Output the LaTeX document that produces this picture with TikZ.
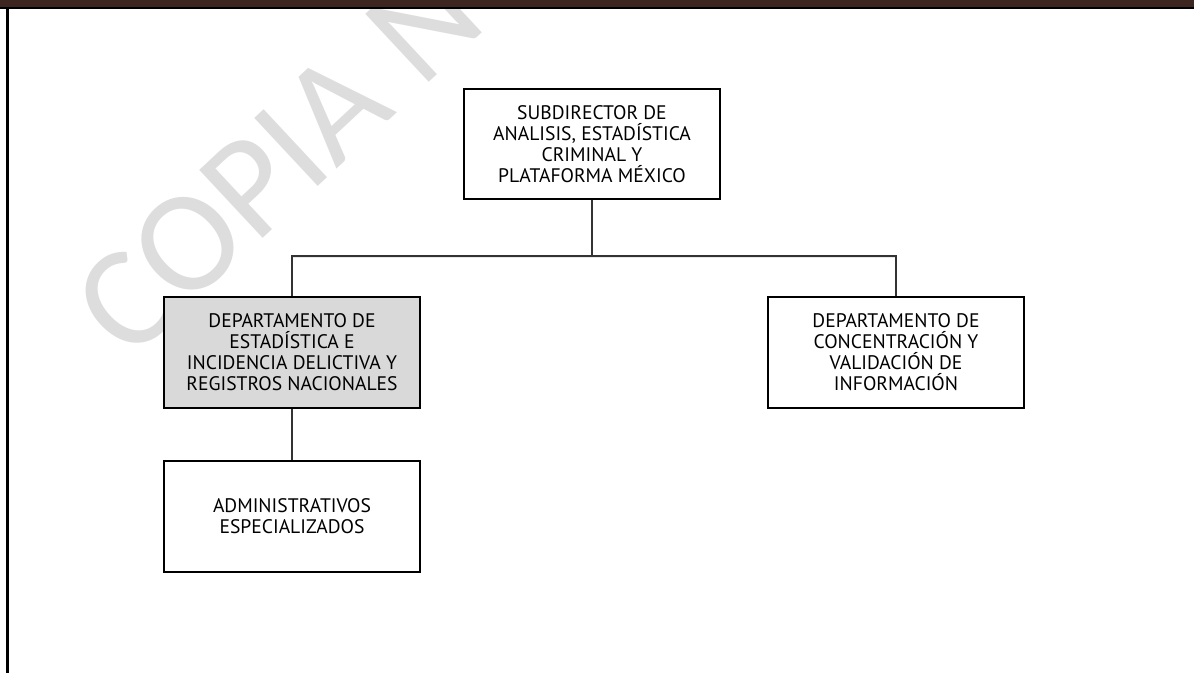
\documentclass[tikz,border=0pt]{standalone}
\usepackage{fontspec}
\setmainfont{PT Sans}
\newfontfamily\wmfont{Carlito}
\definecolor{barbrown}{RGB}{61,38,32}
\definecolor{wmgray}{RGB}{221,221,221}
\definecolor{boxgray}{RGB}{217,217,217}
\begin{document}
\begin{tikzpicture}[x=1pt,y=-1pt,
  orgbox/.style={draw=black, fill=white, line width=1.6pt, minimum width=256pt,
    minimum height=110pt, align=center, inner sep=0pt, text=black,
    font=\fontsize{19.6}{21}\selectfont},
  link/.style={draw=black!80, line width=1.3pt},
  linkshadow/.style={draw=black!15, line width=3pt, opacity=0.6}]
\useasboundingbox (0,0) rectangle (1194,673);

% watermark
\begin{scope}
  \clip (0,0) rectangle (1194,673);
  \node[anchor=base west, rotate=43, text=wmgray, inner sep=0pt,
        font=\wmfont\fontsize{145}{145}\selectfont] (wm) at (129,363) {COPIA NO};
\end{scope}

% header bar and left rule
\fill[barbrown] (0,0) rectangle (1194,6.5);
\fill[black] (0,6.5) rectangle (1194,8.5);
\fill[black] (6,6.5) rectangle (8.7,673);

% boxes
\node[orgbox] (sub) at (592,144)
  {SUBDIRECTOR DE\\ANALISIS, ESTADÍSTICA\\CRIMINAL Y\\PLATAFORMA MÉXICO};
\node[orgbox, fill=boxgray, minimum height=111pt] (est) at (292,352.5)
  {DEPARTAMENTO DE\\ESTADÍSTICA E\\INCIDENCIA DELICTIVA Y\\REGISTROS NACIONALES};
\node[orgbox, minimum height=111pt] (val) at (896,352.5)
  {DEPARTAMENTO DE\\CONCENTRACIÓN Y\\VALIDACIÓN DE\\INFORMACIÓN};
\node[orgbox, minimum height=111pt] (adm) at (292,516.5)
  {ADMINISTRATIVOS\\ESPECIALIZADOS};

% connectors
\coordinate (bus) at (592,256);
\draw[linkshadow, yshift=-2.5pt] (est.north |- bus) -- (val.north |- bus);
\draw[link] (sub.south) -- (bus);
\draw[link] (est.north) |- (bus) -| (val.north);
\draw[link] (est.south) -- (adm.north);
\end{tikzpicture}
\end{document}
